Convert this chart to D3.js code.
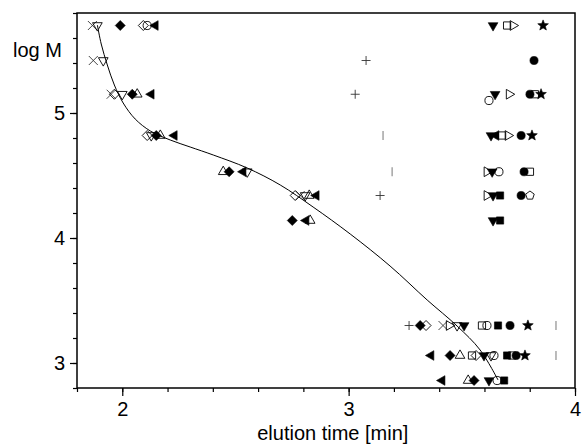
<!DOCTYPE html>
<html><head><meta charset="utf-8">
<script src="https://cdn.jsdelivr.net/npm/d3@7"></script>
<style>
html,body{margin:0;padding:0;background:#fff;}
svg text{font-family:"Liberation Sans",Arial,sans-serif;fill:#000;}
</style></head>
<body><svg id="chart" width="584" height="444"></svg>
<script>
// ---- data (x = elution time [min], y = log M) ----
const xTicks = [1.8, 2.0, 2.2, 2.4, 2.6, 2.8, 3.0, 3.2, 3.4, 3.6, 3.8, 4.0];
const xLabels = [2, 3, 4];
const yTicks = [2.8, 3.0, 3.2, 3.4, 3.6, 3.8, 4.0, 4.2, 4.4, 4.6, 4.8, 5.0, 5.2, 5.4, 5.6, 5.8];
const yLabels = [3, 4, 5];

const calibrationCurve = [[1.890,5.704],[1.907,5.552],[1.934,5.384],[1.965,5.224],[2.004,5.080],[2.057,4.952],[2.124,4.856],[2.212,4.784],[2.300,4.728],[2.402,4.664],[2.552,4.560],[2.698,4.424],[2.843,4.248],[3.007,4.032],[3.183,3.776],[3.347,3.504],[3.479,3.296],[3.581,3.104],[3.660,2.864]];

const cross = [[1.868,5.70],[1.872,5.42],[1.951,5.15],[2.786,4.34],[3.417,3.30]];
const triDownOpen = [[1.890,5.70],[1.916,5.42],[2.000,5.15],[2.128,4.82],[2.552,4.53],[2.808,4.34],[3.479,3.30],[3.629,3.06]];
const diamondFilled = [[1.991,5.70],[2.044,5.15],[2.150,4.82],[2.472,4.53],[2.751,4.14],[3.316,3.30],[3.448,3.06],[3.554,2.86]];
const diamondOpen = [[2.093,5.70],[1.965,5.15],[2.110,4.82],[2.764,4.34],[3.342,3.30],[3.563,3.06]];
const circleOpen = [[2.110,5.70],[3.620,5.10],[3.664,4.53],[3.611,3.30],[3.642,3.06],[3.656,2.86]];
const triLeftFilled = [[2.146,5.70],[2.128,5.15],[2.230,4.82],[2.534,4.53],[2.857,4.34],[2.812,4.14],[3.651,4.82],[3.364,3.06],[3.413,2.86]];
const triUpOpen = [[2.066,5.15],[2.168,4.82],[2.446,4.53],[2.826,4.34],[2.830,4.14],[3.492,3.06],[3.528,2.86]];
const triDownFilled = [[3.638,5.70],[3.647,5.15],[3.629,4.82],[3.634,4.53],[3.638,4.34],[3.638,4.14],[3.510,3.30],[3.598,3.06],[3.620,2.86]];
const triRightOpen = [[3.726,5.70],[3.709,5.15],[3.704,4.82],[3.611,4.53],[3.611,4.34],[3.444,3.30]];
const squareOpen = [[3.700,5.70],[3.823,5.15],[3.678,4.82],[3.801,4.53],[3.589,3.30],[3.545,3.06],[3.722,3.06]];
const squareFilled = [[3.669,4.34],[3.669,4.14],[3.660,3.30],[3.700,3.06],[3.687,2.86]];
const circleFilled = [[3.819,5.42],[3.801,5.15],[3.762,4.82],[3.775,4.53],[3.762,4.34],[3.713,3.30],[3.740,3.06]];
const starFilled = [[3.859,5.70],[3.850,5.15],[3.810,4.82],[3.792,3.30],[3.779,3.06]];
const plusMark = [[3.077,5.42],[3.029,5.15],[3.139,4.34],[3.267,3.30]];
const vlineMark = [[3.152,4.82],[3.192,4.53],[3.916,3.30],[3.916,3.06]];
const pentagonOpen = [[3.801,4.34]];

// ---- layout ----
const svg = d3.select("#chart");
const x = d3.scaleLinear().domain([1.8, 4.0]).range([77, 575]);
const y = d3.scaleLinear().domain([2.8, 5.8]).range([388, 13]);
const FONT = "Liberation Sans, Arial, sans-serif";

// ticks
svg.append("g").attr("transform","translate(0,388)")
  .call(d3.axisBottom(x).tickValues(xTicks).tickSize(4).tickFormat(""))
  .call(g=>{g.select(".domain").remove(); g.selectAll("line").attr("stroke","#000").attr("stroke-width",1.2);});
svg.append("g").attr("transform","translate(0,388)")
  .call(d3.axisBottom(x).tickValues(xLabels).tickSize(8).tickPadding(6).tickFormat(d3.format("d")))
  .call(g=>{g.select(".domain").remove(); g.selectAll("line").attr("stroke","#000").attr("stroke-width",1.2);
    g.selectAll("text").attr("font-size",20).attr("font-family",FONT).attr("fill","#000");});
svg.append("g").attr("transform","translate(77,0)")
  .call(d3.axisLeft(y).tickValues(yTicks).tickSize(4).tickFormat(""))
  .call(g=>{g.select(".domain").remove(); g.selectAll("line").attr("stroke","#000").attr("stroke-width",1.2);});
svg.append("g").attr("transform","translate(77,0)")
  .call(d3.axisLeft(y).tickValues(yLabels).tickSize(7).tickPadding(5).tickFormat(d3.format("d")))
  .call(g=>{g.select(".domain").remove(); g.selectAll("line").attr("stroke","#000").attr("stroke-width",1.2);
    g.selectAll("text").attr("font-size",20).attr("font-family",FONT).attr("fill","#000");});

// frame
svg.append("rect").attr("x",x(1.8)).attr("y",y(5.8)).attr("width",x(4.0)-x(1.8)).attr("height",y(2.8)-y(5.8))
  .attr("fill","none").attr("stroke","#000").attr("stroke-width",1.5);

// calibration curve
svg.append("path").datum(calibrationCurve)
  .attr("d", d3.line().x(d=>x(d[0])).y(d=>y(d[1])).curve(d3.curveCatmullRom))
  .attr("fill","none").attr("stroke","#000").attr("stroke-width",1);

// marker shapes
function poly(pts){return "M"+pts.map(p=>p[0].toFixed(2)+","+p[1].toFixed(2)).join("L")+"Z";}
function tri(r, angleDeg){
  const a0 = angleDeg*Math.PI/180;
  return poly([0,1,2].map(i=>{const a=a0+i*2*Math.PI/3; return [r*Math.cos(a), r*Math.sin(a)];}));
}
const shapes = {
  triDown: tri(5.6, 90),
  triUp: tri(5.6, -90),
  triLeft: tri(5.6, 180),
  triRight: tri(5.6, 0),
  diamond: poly([[0,-5],[5,0],[0,5],[-5,0]]),
  square: poly([[-3.6,-3.6],[3.6,-3.6],[3.6,3.6],[-3.6,3.6]]),
  circle: d3.symbol(d3.symbolCircle, 52)(),
  star: (()=>{const p=[];for(let i=0;i<10;i++){const r=i%2?2.4:5.6;const a=-Math.PI/2+i*Math.PI/5;p.push([r*Math.cos(a),r*Math.sin(a)]);}return poly(p);})(),
  pentagon: poly([0,1,2,3,4].map(i=>{const a=-Math.PI/2+i*2*Math.PI/5;return [4.5*Math.cos(a),4.5*Math.sin(a)];})),
  cross: "M-4.5,-4.5L4.5,4.5M-4.5,4.5L4.5,-4.5",
  plus: "M-4.5,0L4.5,0M0,-4.5L0,4.5",
  vline: "M0,-4.5L0,4.5"
};
const series = [
  {data: cross, shape:"cross", filled:false, stroke:"#333", sw:0.9},
  {data: plusMark, shape:"plus", filled:false, stroke:"#333", sw:0.9},
  {data: vlineMark, shape:"vline", filled:false, stroke:"#777", sw:1},
  {data: triDownOpen, shape:"triDown", filled:false},
  {data: diamondOpen, shape:"diamond", filled:false},
  {data: circleOpen, shape:"circle", filled:false},
  {data: triUpOpen, shape:"triUp", filled:false},
  {data: triRightOpen, shape:"triRight", filled:false},
  {data: squareOpen, shape:"square", filled:false},
  {data: pentagonOpen, shape:"pentagon", filled:false},
  {data: diamondFilled, shape:"diamond", filled:true},
  {data: triLeftFilled, shape:"triLeft", filled:true},
  {data: triDownFilled, shape:"triDown", filled:true},
  {data: squareFilled, shape:"square", filled:true},
  {data: circleFilled, shape:"circle", filled:true},
  {data: starFilled, shape:"star", filled:true}
];
series.forEach(s=>{
  svg.append("g").selectAll("path").data(s.data).join("path")
    .attr("transform", d=>`translate(${x(d[0])},${y(d[1])})`)
    .attr("d", shapes[s.shape])
    .attr("fill", s.filled ? "#000" : "none")
    .attr("stroke", s.stroke || "#000")
    .attr("stroke-width", s.sw || (s.filled ? 0.6 : 0.9));
});

// axis titles
svg.append("text").attr("x",13).attr("y",57).attr("font-size",20).attr("font-family",FONT).text("log M");
svg.append("text").attr("x",x(2.93)).attr("y",440).attr("text-anchor","middle").attr("font-size",20).attr("font-family",FONT).text("elution time [min]");
</script></body></html>
